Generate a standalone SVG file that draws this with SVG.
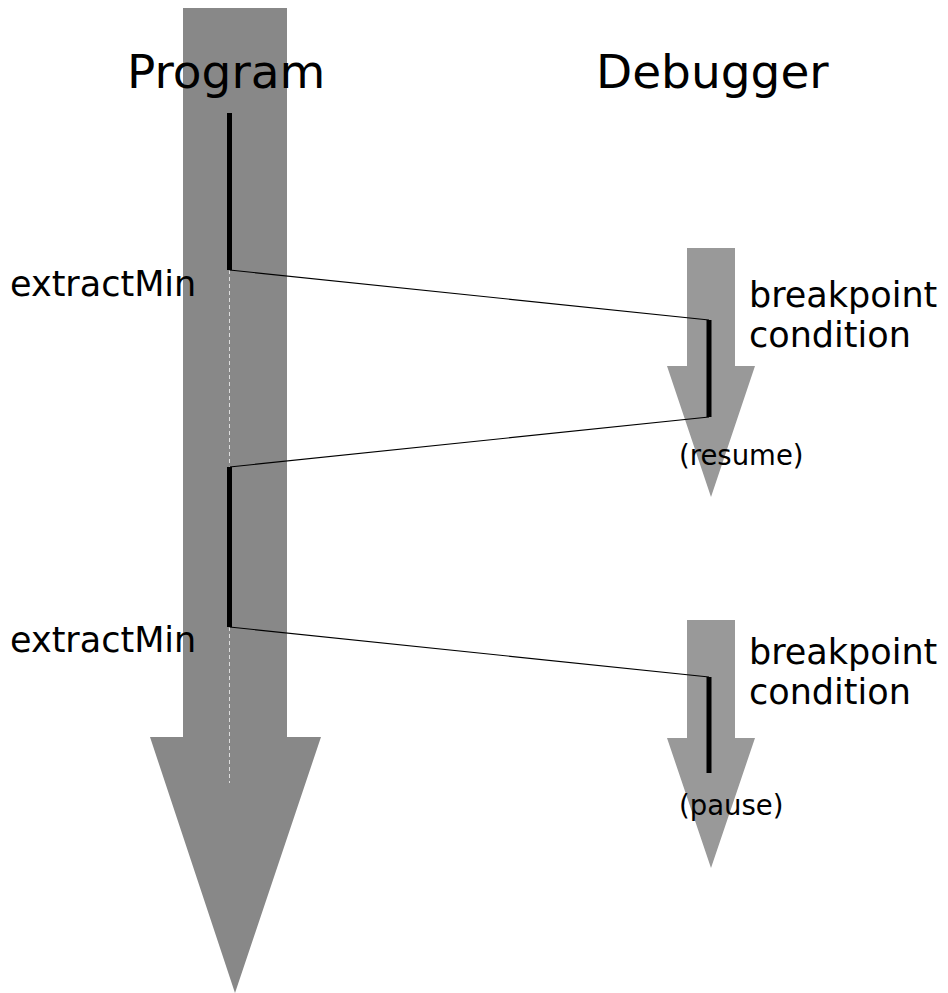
<svg xmlns="http://www.w3.org/2000/svg" width="948" height="993" viewBox="0 0 948 993">
<style>
.big{fill:#888888}
.small{fill:#999999}
.act{stroke:#000;stroke-width:5;fill:none}
.msg{stroke:#000;stroke-width:1.2;fill:none}
.dash{stroke:#dddddd;stroke-width:1;stroke-dasharray:4,3;fill:none}
text{font-family:"DejaVu Sans",sans-serif;fill:#000}
.h{font-size:47px}
.l{font-size:35px}
.s{font-size:27.5px}
</style>
<rect width="948" height="993" fill="#fff"/>
<g id="program">
<polygon class="big" points="183,8 287,8 287,737 321,737 235,993 150,737 183,737"/>
<line class="dash" x1="229.5" y1="270" x2="229.5" y2="783"/>
<line class="act" x1="229.5" y1="113" x2="229.5" y2="270"/>
<line class="act" x1="229.5" y1="467" x2="229.5" y2="627"/>
<text class="h" x="127" y="88">Program</text>
<text class="l" x="10" y="296">extractMin</text>
<text class="l" x="10" y="652">extractMin</text>
</g>
<g id="debugger">
<text class="h" x="596" y="88">Debugger</text>
</g>
<g id="bp1">
<polygon class="small" points="687,248 735,248 735,366 755,366 711,497 667,366 687,366"/>
<line class="act" x1="709" y1="320" x2="709" y2="417"/>
<text class="l" x="749" y="307">breakpoint</text>
<text class="l" x="749" y="347">condition</text>
<text class="s" x="679" y="465">(resume)</text>
</g>
<g id="bp2">
<polygon class="small" points="687,620 735,620 735,738 755,738 711,868 667,738 687,738"/>
<line class="act" x1="709" y1="677" x2="709" y2="773"/>
<text class="l" x="749" y="664">breakpoint</text>
<text class="l" x="749" y="704">condition</text>
<text class="s" x="679" y="815">(pause)</text>
</g>
<g id="connectors">
<line class="msg" x1="229.5" y1="270" x2="709" y2="320"/>
<line class="msg" x1="709" y1="417" x2="229.5" y2="467"/>
<line class="msg" x1="229.5" y1="627" x2="709" y2="677"/>
</g>
</svg>
